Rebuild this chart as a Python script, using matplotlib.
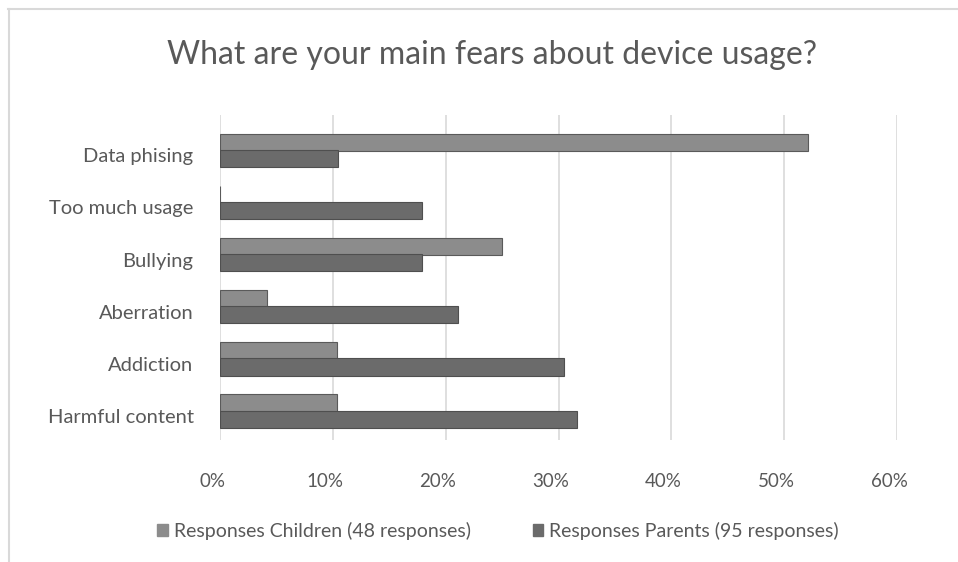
import numpy as np
import matplotlib.pyplot as plt
import matplotlib.transforms as mtrans
from matplotlib.patches import Patch

plt.rcParams['font.family'] = ['Lato', 'DejaVu Sans']

categories = ["Data phising", "Too much usage", "Bullying", "Aberration", "Addiction", "Harmful content"]
children = [0.521, 0.0, 0.25, 0.042, 0.104, 0.104]   # 48 responses
parents = [0.105, 0.179, 0.179, 0.211, 0.305, 0.316]  # 95 responses
xticks = [0, 0.1, 0.2, 0.3, 0.4, 0.5, 0.6]
xticklabels = ["0%", "10%", "20%", "30%", "40%", "50%", "60%"]

c_child = "#8c8c8c"
c_par = "#6b6b6b"
txt = "#595959"

fig = plt.figure(figsize=(9.58, 5.62), dpi=100)
ax = fig.add_axes([220/958, 1-440/562, (897-220)/958, (440-115)/562])

y = np.arange(len(categories))
h = 0.33
ax.barh(y - 0.25, children, height=h, color=c_child, edgecolor="#5a5a5a", linewidth=0.8, zorder=3)
ax.barh(y + 0.06, parents, height=h, color=c_par, edgecolor="#4f4f4f", linewidth=0.8, zorder=3)

ax.set_xlim(0, 0.6)
ax.set_ylim(5.46, -0.77)
ax.set_yticks(y)
ax.set_yticklabels(categories, fontsize=14.5, color=txt)
ax.set_xticks(xticks)
ax.set_xticklabels(xticklabels, fontsize=13.5, color=txt)
ax.tick_params(axis="y", length=0, pad=19)
ax.tick_params(axis="x", length=0, pad=24)
for lab in ax.get_xticklabels():
    lab.set_transform(lab.get_transform() + mtrans.ScaledTranslation(-8/100, 0, fig.dpi_scale_trans))
ax.grid(axis="x", color="#d9d9d9", linewidth=1.2, zorder=0)
for s in ax.spines.values():
    s.set_visible(False)

fig.text(492/958, 1-55/562, "What are your main fears about device usage?",
         ha="center", va="center", fontsize=23, color=txt)

handles = [Patch(color=c_child, label="Responses Children (48 responses)"),
           Patch(color=c_par, label="Responses Parents (95 responses)")]
fig.legend(handles=handles, loc="center", bbox_to_anchor=(498/958, 1-531/562), ncol=2,
           frameon=False, fontsize=14, labelcolor=txt, handlelength=0.55, handleheight=0.55,
           handletextpad=0.3, columnspacing=3.2)

# chart frame (top and left edges visible)
fig.add_artist(plt.Line2D([8/958, 1], [1-9/562, 1-9/562], color="#d9d9d9", linewidth=1.5))
fig.add_artist(plt.Line2D([9/958, 9/958], [0, 1-9/562], color="#d9d9d9", linewidth=1.5))

fig.savefig("out.png", dpi=100)
